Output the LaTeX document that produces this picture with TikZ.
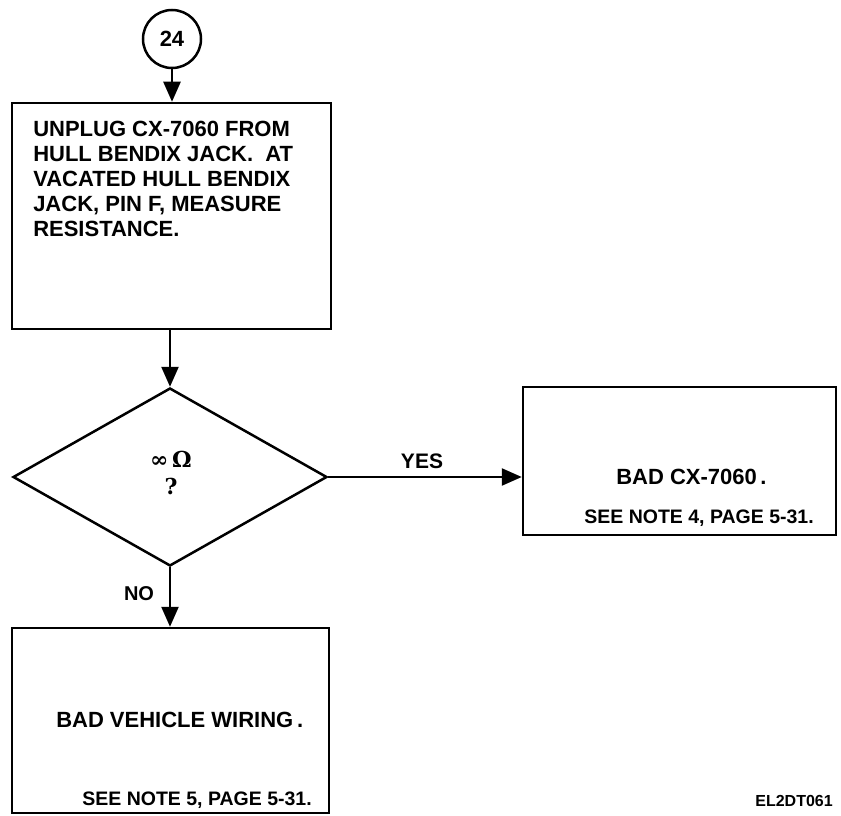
\documentclass[tikz,border=0pt]{standalone}
\usepackage{fontspec}
\setmainfont{Liberation Sans}
\newfontfamily\symfont{DejaVu Serif}
\usetikzlibrary{arrows.meta,shapes.geometric}
\begin{document}
\begin{tikzpicture}[x=1pt,y=-1pt,
  line width=2.5pt,
  txt/.style={font=\fontsize{22}{25}\selectfont\bfseries,inner sep=0pt},
  small/.style={font=\fontsize{19.5}{22}\selectfont\bfseries,inner sep=0pt},
  arr/.style={-{Triangle[length=20pt,width=17pt]}}]
\useasboundingbox (0,0) rectangle (841,816);
% nodes
\node[draw,circle,minimum size=58pt,inner sep=0pt,font=\fontsize{22}{22}\selectfont\bfseries] (c24) at (172,39) {24};
\node[draw,rectangle,minimum width=319pt,minimum height=226pt,inner sep=0pt] (b1) at (171.5,216) {};
\node[txt,align=left,anchor=north west] (t1) at (32,120) {UNPLUG CX-7060 FROM\\HULL BENDIX JACK.\ \ AT\\VACATED HULL BENDIX\\JACK, PIN F, MEASURE\\RESISTANCE.};
\node[draw,diamond,minimum width=314pt,minimum height=178pt,inner sep=0pt,aspect=1.76] (d1) at (170,477) {};
\node[inner sep=0pt,font=\fontsize{22}{27}\selectfont\symfont\bfseries,align=center] (dt) at (171,473) {∞\,Ω\\?};
\node[draw,rectangle,minimum width=313pt,minimum height=148pt,inner sep=0pt] (b2) at (679.5,461) {};
\node[txt,anchor=west] (t2a) at (615,477) {BAD CX-7060\,.};
\node[small,anchor=east] (t2b) at (815,518) {SEE NOTE 4, PAGE 5-31.};
\node[draw,rectangle,minimum width=317pt,minimum height=185pt,inner sep=0pt] (b3) at (170.5,720.5) {};
\node[txt,anchor=west] (t3a) at (55,720) {BAD VEHICLE WIRING\,.};
\node[small,anchor=east] (t3b) at (313,800) {SEE NOTE 5, PAGE 5-31.};
\node[font=\fontsize{21}{22}\selectfont\bfseries,inner sep=0pt] (yes) at (422,461) {YES};
\node[font=\fontsize{20}{22}\selectfont\bfseries,inner sep=0pt] (no) at (139,594) {NO};
\node[font=\fontsize{16}{18}\selectfont\bfseries,inner sep=0pt,anchor=east] (id) at (834,801) {EL2DT061};
% connectors
\draw[arr] (c24.south) -- (c24.south |- b1.north);
\draw[arr] (d1.north |- b1.south) -- (d1.north);
\draw[arr] (d1.east) -- (b2.west |- d1.east);
\draw[arr] (d1.south) -- (b3.north -| d1.south);
\end{tikzpicture}
\end{document}
